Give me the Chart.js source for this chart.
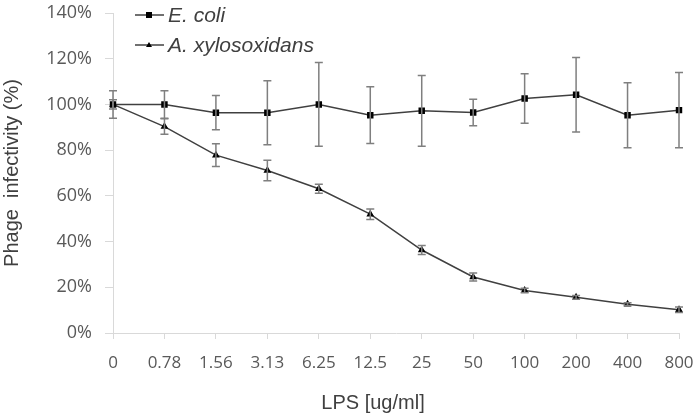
<!DOCTYPE html>
<html>
<head>
<meta charset="utf-8">
<script src="https://cdn.jsdelivr.net/npm/chart.js@4"></script>
<style>
  body { margin: 0; background: #fff; }
  .wrap { width: 700px; height: 416px; }
</style>
</head>
<body>
<div class="wrap"><canvas id="myChart" width="700" height="416"></canvas></div>
<script>
const categories = ["0", "0.78", "1.56", "3.13", "6.25", "12.5", "25", "50", "100", "200", "400", "800"];
const ecoli = [100, 100, 96.4, 96.4, 100, 95.3, 97.2, 96.5, 102.6, 104.2, 95.3, 97.5];
const ecoliErr = [6, 6, 7.5, 14, 18.3, 12.4, 15.5, 5.8, 10.8, 16.3, 14.2, 16.5];
const xylo = [100, 90.3, 77.8, 71.1, 63.1, 52, 36.3, 24.5, 18.6, 15.6, 12.6, 10.2];
const xyloErr = [2, 3.4, 5, 4.5, 2, 2.3, 2, 1.8, 1, 0.8, 0.6, 1.2];
const yTicks = [0, 20, 40, 60, 80, 100, 120, 140];

const lineColor = '#404040';
const errColor = '#7f7f7f';
const textColor = '#595959';

const errorBars = {
    id: 'errorBars',
    afterDatasetsDraw(chart) {
        const ctx = chart.ctx;
        const xs = chart.scales.x;
        const ys = chart.scales.y;
        const errs = [ecoliErr, xyloErr];
        ctx.save();
        ctx.strokeStyle = errColor;
        ctx.lineWidth = 1.5;
        chart.data.datasets.forEach((ds, i) => {
            ds.data.forEach((v, j) => {
                const x = xs.getPixelForValue(j);
                const top = ys.getPixelForValue(v + errs[i][j]);
                const bot = ys.getPixelForValue(v - errs[i][j]);
                ctx.beginPath();
                ctx.moveTo(x, top); ctx.lineTo(x, bot);
                ctx.moveTo(x - 4, top); ctx.lineTo(x + 4, top);
                ctx.moveTo(x - 4, bot); ctx.lineTo(x + 4, bot);
                ctx.stroke();
            });
        });
        ctx.restore();
    }
};

// legend inside the plot (top-left) and the x title, which sits left of centre in the original
const extras = {
    id: 'extras',
    afterDraw(chart) {
        const ctx = chart.ctx;
        const x0 = chart.chartArea.left + 22;
        const rows = [15, 45];
        ctx.save();
        chart.data.datasets.forEach((ds, i) => {
            const y = rows[i];
            ctx.strokeStyle = lineColor;
            ctx.lineWidth = 1.5;
            ctx.beginPath();
            ctx.moveTo(x0, y); ctx.lineTo(x0 + 29, y);
            ctx.stroke();
            ctx.fillStyle = '#000';
            if (i === 0) {
                ctx.fillRect(x0 + 11, y - 3, 6, 6);
            } else {
                ctx.beginPath();
                ctx.moveTo(x0 + 14, y - 3);
                ctx.lineTo(x0 + 17, y + 2);
                ctx.lineTo(x0 + 11, y + 2);
                ctx.closePath();
                ctx.fill();
            }
            ctx.fillStyle = '#404040';
            ctx.font = 'italic 21px "Liberation Sans"';
            ctx.textBaseline = 'middle';
            ctx.fillText(ds.label, x0 + 33, y + 1);
        });
        ctx.font = '20px "Liberation Sans"';
        ctx.textAlign = 'center';
        ctx.textBaseline = 'middle';
        ctx.fillStyle = '#404040';
        ctx.fillText('LPS [ug/ml]', 373, 403);
        ctx.restore();
    }
};

new Chart(document.getElementById('myChart'), {
    type: 'line',
    data: {
        labels: categories,
        datasets: [
            {
                label: 'E. coli',
                data: ecoli,
                borderColor: lineColor,
                borderWidth: 1.5,
                pointStyle: 'rect',
                pointRadius: 3.5,
                pointBackgroundColor: '#000',
                pointBorderColor: '#000',
                tension: 0
            },
            {
                label: 'A. xylosoxidans',
                data: xylo,
                borderColor: lineColor,
                borderWidth: 1.5,
                pointStyle: 'triangle',
                pointRadius: 3,
                pointBackgroundColor: '#000',
                pointBorderColor: '#000',
                tension: 0
            }
        ]
    },
    options: {
        responsive: false,
        animation: false,
        layout: { padding: { top: 13, right: 21, left: 0, bottom: 0 } },
        plugins: {
            legend: { display: false },
            tooltip: { enabled: false }
        },
        scales: {
            x: {
                offset: false,
                grid: {
                    display: true,
                    drawOnChartArea: false,
                    drawTicks: true,
                    tickLength: 6,
                    color: '#d9d9d9'
                },
                border: { color: '#d9d9d9' },
                ticks: {
                    color: textColor,
                    font: { family: 'Open Sans', size: 17 },
                    maxRotation: 0,
                    autoSkip: false,
                    padding: 14
                },
                afterFit: s => {
                    s.height = 416 - 333;
                    s.paddingLeft = 0; s.paddingRight = 0;
                }
            },
            y: {
                min: 0,
                max: 140,
                afterBuildTicks: s => { s.ticks = yTicks.map(v => ({ value: v })); },
                grid: {
                    display: true,
                    drawOnChartArea: false,
                    tickLength: 8,
                    color: '#d9d9d9'
                },
                border: { color: '#d9d9d9' },
                ticks: {
                    color: textColor,
                    font: { family: 'Open Sans', size: 18 },
                    padding: 13,
                    callback: v => v + '%'
                },
                title: {
                    display: true,
                    text: 'Phage  infectivity (%)',
                    color: '#404040',
                    font: { family: 'Liberation Sans', size: 20 },
                    padding: { top: 0, bottom: 4 }
                },
                afterFit: s => {
                    s.width = 113;
                    s.paddingTop = 0; s.paddingBottom = 0;
                }
            }
        }
    },
    plugins: [errorBars, extras]
});
</script>
</body>
</html>
